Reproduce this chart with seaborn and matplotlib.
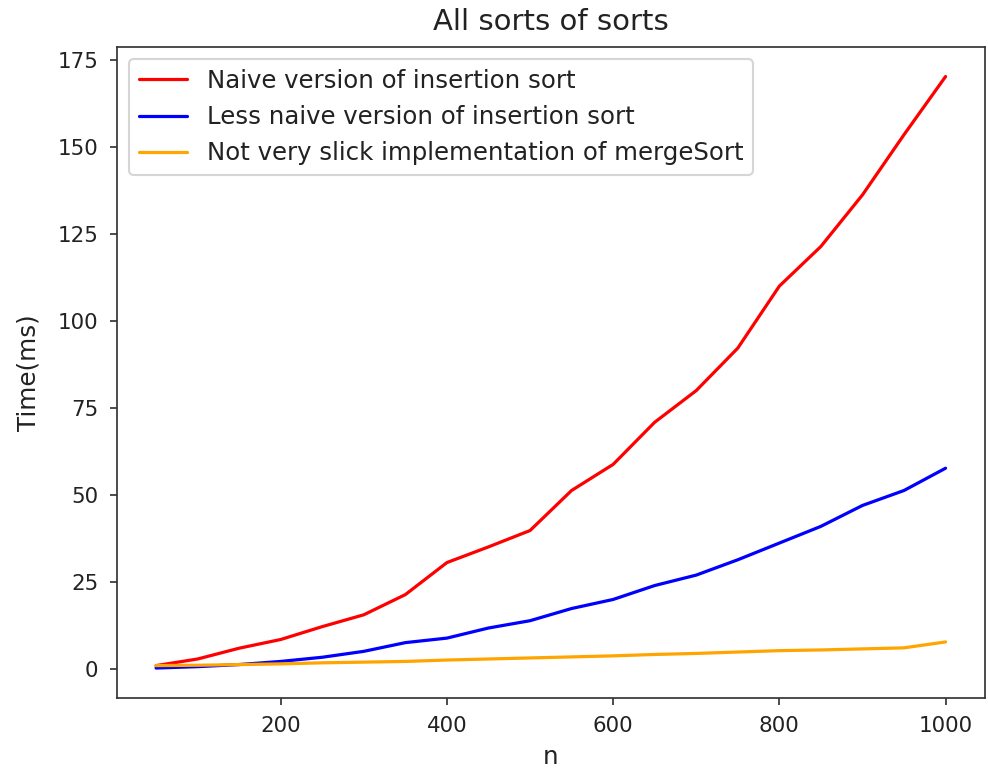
import matplotlib
matplotlib.use("Agg")
import matplotlib.pyplot as plt
import seaborn as sns
import pandas as pd

# Input sizes and measured running times (ms)
sizes = list(range(50, 1001, 50))
naive_insertion = [1.0, 2.9, 6.0, 8.5, 12.2, 15.6, 21.4, 30.6, 35.1, 39.8,
                   51.3, 58.8, 70.9, 80.0, 92.2, 110.0, 121.4, 136.2, 153.5, 170.2]
less_naive_insertion = [0.3, 0.7, 1.3, 2.2, 3.4, 5.1, 7.6, 8.9, 11.8, 13.9,
                        17.4, 20.0, 24.0, 27.0, 31.4, 36.2, 41.0, 47.0, 51.3, 57.7]
merge_sort = [1.0, 1.1, 1.3, 1.5, 1.8, 2.0, 2.2, 2.6, 2.9, 3.2,
              3.5, 3.8, 4.2, 4.5, 4.9, 5.3, 5.5, 5.8, 6.1, 7.8]

series_labels = ["Naive version of insertion sort",
                 "Less naive version of insertion sort",
                 "Not very slick implementation of mergeSort"]
series_colors = ["red", "blue", "orange"]

sns.set_style("ticks")
plt.rcParams["font.family"] = ["DejaVu Sans"]

fig = plt.figure(figsize=(988 / 154, 770 / 154), dpi=154)
ax = fig.add_axes([0.118, 0.094, 0.879, 0.845])

for values, label, color in zip([naive_insertion, less_naive_insertion, merge_sort],
                                series_labels, series_colors):
    df = pd.DataFrame({"n": sizes, "time": values})
    sns.lineplot(data=df, x="n", y="time", color=color, label=label, ax=ax,
                 linewidth=1.5)

text_color = "#222222"
ax.margins(x=0.05, y=0.05)
ax.set_title("All sorts of sorts", fontsize=13.6, color=text_color, pad=8)
ax.set_xlabel("n", fontsize=11.5, color=text_color, labelpad=4.5)
ax.set_ylabel("Time(ms)", fontsize=11.5, color=text_color, labelpad=8)
ax.set_xticks([200, 400, 600, 800, 1000])
ax.set_yticks([0, 25, 50, 75, 100, 125, 150, 175])
for spine in ax.spines.values():
    spine.set_color("#333333")
    spine.set_linewidth(0.8)
ax.tick_params(colors="#333333", labelcolor=text_color, labelsize=10,
               direction="out", length=3.5, width=0.8, pad=5)
leg = ax.legend(loc="upper left", frameon=True, fancybox=True, framealpha=0.8,
                edgecolor="0.8", fontsize=11.4)
for t in leg.get_texts():
    t.set_color(text_color)

fig.savefig("out.png", dpi=154)
